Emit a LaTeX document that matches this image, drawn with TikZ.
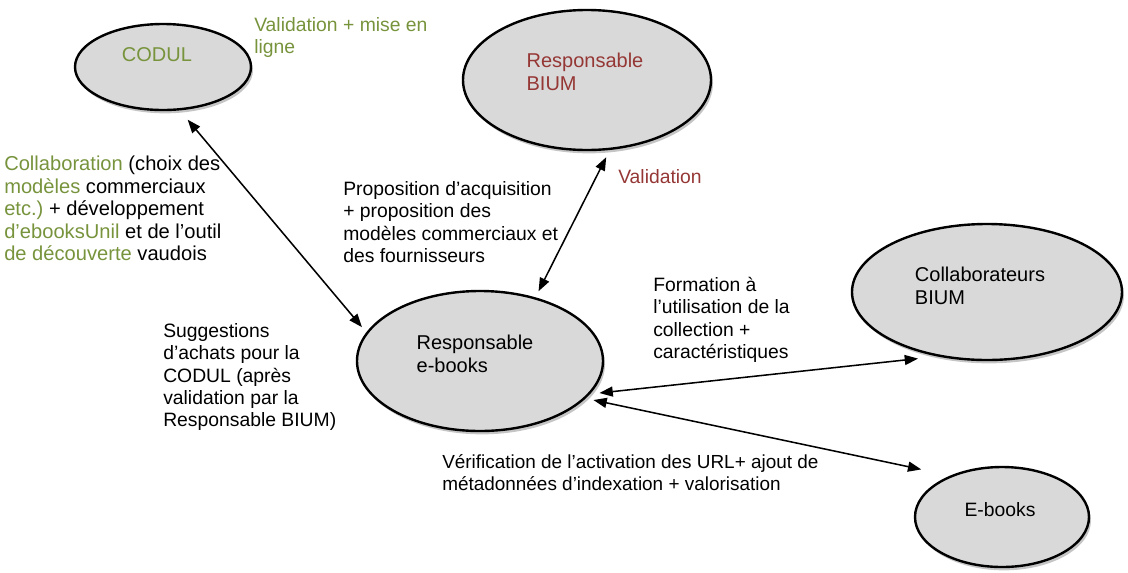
\documentclass[tikz,border=0pt]{standalone}
\usepackage{fontspec}
\setmainfont{Liberation Sans}
\usetikzlibrary{shapes.geometric, arrows.meta, shadows}
\definecolor{codulgreen}{RGB}{119,147,60}
\definecolor{biumred}{RGB}{149,55,53}
\definecolor{bubblegray}{RGB}{217,217,217}

\begin{document}
\begin{tikzpicture}[x=0.75pt,y=0.75pt,yscale=-1,xscale=1,
    bubble/.style={ellipse, draw=black, line width=1.8pt, fill=bubblegray, inner sep=0pt, outer sep=6pt,
        drop shadow={shadow xshift=1.5pt, shadow yshift=-2.5pt, fill=black!45, opacity=.5}},
    txt/.style={align=left, inner sep=0pt, font=\fontsize{14.5}{16.8}\selectfont},
    link/.style={{Triangle[length=10pt,width=7.5pt]}-{Triangle[length=10pt,width=7.5pt]}, line width=1.15pt}]
\useasboundingbox (0,0) rectangle (1128,572);

%Shape: Ellipse
\node [bubble, minimum width=132pt, minimum height=64.5pt] (codul) at (163,67) {};
%Shape: Ellipse
\node [bubble, minimum width=186pt, minimum height=105pt] (bium) at (587,80) {};
%Shape: Ellipse
\node [bubble, minimum width=184.5pt, minimum height=105pt] (ebooks) at (480,361) {};
%Shape: Ellipse
\node [bubble, minimum width=202.5pt, minimum height=102pt] (collab) at (987,292) {};
%Shape: Ellipse
\node [bubble, minimum width=130.5pt, minimum height=75pt] (ebook) at (1002,517) {};

%Straight Lines
\draw [link, shorten >=3pt] (ebooks.164) -- (codul.-66) ;
%Straight Lines
\draw [link] (ebooks.50) -- (bium.-76) ;
%Straight Lines
\draw [link] (ebooks.-15) -- (collab.-136) ;
%Straight Lines
\draw [link, shorten >=14pt] (ebooks.-19) -- (ebook.145) ;

% Text Node
\node [txt, font=\fontsize{15}{17}\selectfont, text=codulgreen] (codultxt) at (157,55) {CODUL};
% Text Node
\node [txt, font=\fontsize{15}{17.5}\selectfont, text=biumred] (biumtxt) at (585,72) {Responsable\\BIUM};
% Text Node
\node [txt, font=\fontsize{15}{17}\selectfont] (ebookstxt) at (475,354) {Responsable\\e-books};
% Text Node
\node [txt, font=\fontsize{15}{17}\selectfont] (collabtxt) at (980,286) {Collaborateurs\\BIUM};
% Text Node
\node [txt, font=\fontsize{14.5}{17}\selectfont] (ebooktxt) at (1000,510) {E-books};
% Text Node
\node [txt, text=codulgreen, anchor=north west] (miseligne) at (254,17) {Validation + mise en\\ligne};
% Text Node
\node [txt, text=biumred, anchor=north west] (validation) at (618,169) {Validation};
% Text Node
\node [txt, anchor=north west] (proposition) at (343,181) {Proposition d’acquisition\\+ proposition des\\modèles commerciaux et\\des fournisseurs};
% Text Node
\node [txt, font=\fontsize{15.1}{16.8}\selectfont, anchor=north west] (collaboration) at (4,156) {{\color{codulgreen}Collaboration} (choix des\\{\color{codulgreen}modèles} commerciaux\\{\color{codulgreen}etc.)}\ + développement\\{\color{codulgreen}d’ebooksUnil} et de l’outil\\{\color{codulgreen}de découverte} vaudois};
% Text Node
\node [txt, anchor=north west] (suggestions) at (163,323) {Suggestions\\d’achats pour la\\CODUL (après\\validation par la\\Responsable BIUM)};
% Text Node
\node [txt, anchor=north west] (formation) at (653,277) {Formation à\\l’utilisation de la\\collection +\\caractéristiques};
% Text Node
\node [txt, font=\fontsize{14.2}{16.8}\selectfont, anchor=north west] (verification) at (442,454) {Vérification de l’activation des URL+ ajout de\\métadonnées d’indexation + valorisation};

\end{tikzpicture}
\end{document}
